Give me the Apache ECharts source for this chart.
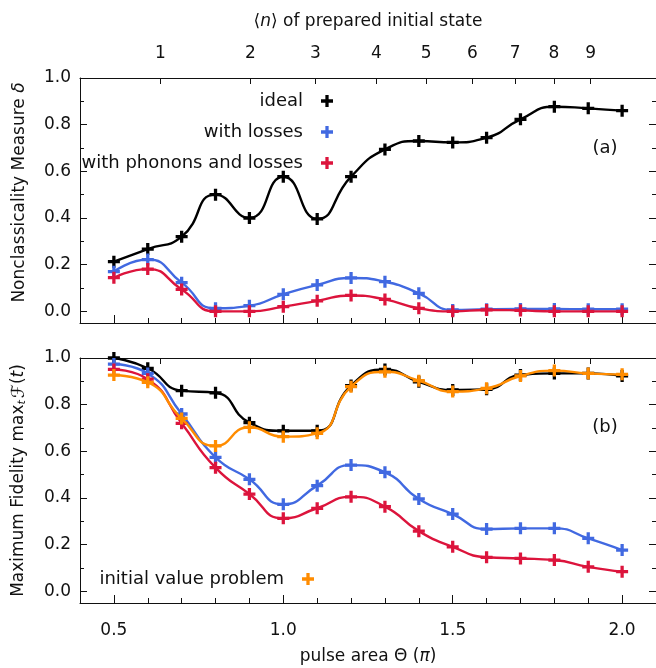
<!DOCTYPE html>
<html>
<head>
<meta charset="utf-8">
<script src="https://cdn.jsdelivr.net/npm/echarts@6/dist/echarts.min.js"></script>
<style>
  html, body { margin: 0; padding: 0; background: #ffffff; }
  #chart { width: 656px; height: 668px; }
</style>
</head>
<body>
<div id="chart"></div>
<script>
// Pulse area Θ (in units of π) at which each state was evaluated
const theta = [0.5, 0.6, 0.7, 0.8, 0.9, 1.0, 1.1, 1.2, 1.3, 1.4, 1.5, 1.6, 1.7, 1.8, 1.9, 2.0];

// (a) nonclassicality measure δ
const deltaIdeal   = [0.213, 0.267, 0.320, 0.500, 0.400, 0.577, 0.396, 0.577, 0.694, 0.730, 0.724, 0.744, 0.823, 0.877, 0.870, 0.860];
const deltaLosses  = [0.170, 0.222, 0.123, 0.013, 0.024, 0.073, 0.113, 0.143, 0.127, 0.077, 0.006, 0.009, 0.010, 0.010, 0.009, 0.009];
const deltaPhonons = [0.144, 0.181, 0.094, 0.000, 0.000, 0.020, 0.045, 0.068, 0.051, 0.013, 0.000, 0.006, 0.004, 0.000, 0.000, 0.000];

// (b) maximum fidelity max_t F(t)
const fidIdeal   = [1.000, 0.956, 0.860, 0.851, 0.723, 0.688, 0.688, 0.882, 0.951, 0.898, 0.863, 0.866, 0.927, 0.934, 0.934, 0.923];
const fidLosses  = [0.974, 0.934, 0.760, 0.574, 0.480, 0.373, 0.453, 0.541, 0.510, 0.396, 0.331, 0.267, 0.270, 0.270, 0.227, 0.177];
const fidPhonons = [0.951, 0.909, 0.720, 0.530, 0.417, 0.313, 0.356, 0.405, 0.363, 0.258, 0.191, 0.146, 0.141, 0.134, 0.105, 0.084];
const fidIVP     = [0.927, 0.896, 0.741, 0.623, 0.703, 0.663, 0.677, 0.877, 0.941, 0.903, 0.856, 0.870, 0.923, 0.946, 0.934, 0.930];

// Secondary axis: mean photon number <n> of the prepared state vs. pulse area
const nLabels = ['1', '2', '3', '4', '5', '6', '7', '8', '9'];
const nTheta  = [0.637, 0.903, 1.095, 1.275, 1.422, 1.558, 1.684, 1.799, 1.907];

// Tick positions
const xMajor = [0.5, 1.0, 1.5, 2.0];
const xMinor = [0.5, 0.6, 0.7, 0.8, 0.9, 1.0, 1.1, 1.2, 1.3, 1.4, 1.5, 1.6, 1.7, 1.8, 1.9, 2.0];
const yMajor = [0.0, 0.2, 0.4, 0.6, 0.8, 1.0];
const yMinor = [0.0, 0.1, 0.2, 0.3, 0.4, 0.5, 0.6, 0.7, 0.8, 0.9, 1.0];

const FONT = 'DejaVu Sans';
const INK = '#111111';
const FS = 17;
const FS_LEGEND = 18;
const COLORS = { ideal: '#000000', losses: '#4169e1', phonons: '#dc143c', ivp: '#ff8c00' };
const PLUS = 'path://M4,0H7V4H11V7H7V11H4V7H0V4H4Z';

const X_MIN = 0.4, X_MAX = 2.1, Y_MIN = -0.05, Y_MAX = 1.0;

function pairs(xs, ys) { return xs.map((x, i) => [x, ys[i]]); }

function xAxis(grid, position, ticks, len, extra) {
  return Object.assign({
    type: 'value', gridIndex: grid, position: position, min: X_MIN, max: X_MAX,
    axisLine: { show: true, onZero: false, lineStyle: { color: INK, width: 1 } },
    axisTick: { show: true, inside: true, length: len, customValues: ticks, lineStyle: { color: INK, width: 1 } },
    axisLabel: { show: false },
    splitLine: { show: false }
  }, extra || {});
}

function yAxis(grid, position, ticks, len, extra) {
  return Object.assign({
    type: 'value', gridIndex: grid, position: position, min: Y_MIN, max: Y_MAX,
    axisLine: { show: true, onZero: false, lineStyle: { color: INK, width: 1 } },
    axisTick: { show: true, inside: true, length: len, customValues: ticks, lineStyle: { color: INK, width: 1 } },
    axisLabel: { show: false },
    splitLine: { show: false }
  }, extra || {});
}

const tickLabel = { show: true, fontFamily: FONT, fontSize: FS, color: INK };

function richName(extraRich) {
  return {
    rich: Object.assign({
      b: { fontFamily: FONT, fontSize: FS, color: INK },
      i: { fontFamily: FONT, fontSize: FS, color: INK, fontStyle: 'italic' }
    }, extraRich || {})
  };
}

const xAxes = [
  // top panel
  xAxis(0, 'bottom', xMajor, 8),                                                 // 0
  xAxis(0, 'bottom', xMinor, 5, { axisLine: { show: false, onZero: false } }),   // 1
  xAxis(0, 'top', nTheta, 6, {                                                   // 2
    axisLabel: Object.assign({}, tickLabel, {
      customValues: nTheta, margin: 16,
      formatter: v => nLabels[nTheta.indexOf(v)]
    }),
    name: '{b|⟨}{i|n}{b|⟩ of prepared initial state}',
    nameLocation: 'middle', nameGap: 48,
    nameTextStyle: richName()
  }),
  // bottom panel
  xAxis(1, 'bottom', xMajor, 8, {                                                // 3
    axisLabel: Object.assign({}, tickLabel, {
      customValues: xMajor, margin: 19, formatter: v => v.toFixed(1)
    }),
    name: '{b|pulse area Θ (}{i|π}{b|)}',
    nameLocation: 'middle', nameGap: 45,
    nameTextStyle: richName()
  }),
  xAxis(1, 'bottom', xMinor, 5, { axisLine: { show: false, onZero: false } }),   // 4
  xAxis(1, 'top', nTheta, 6)                                                     // 5
];

const yAxes = [
  yAxis(0, 'left', yMajor, 7, {                                                  // 0
    axisLabel: Object.assign({}, tickLabel, {
      customValues: yMajor, margin: 9, formatter: v => v.toFixed(1)
    }),
    name: '{b|Nonclassicality Measure }{i|δ}',
    nameLocation: 'middle', nameGap: 52,
    nameTextStyle: Object.assign(richName(), { padding: [0, 0, 0, 16] })
  }),
  yAxis(0, 'left', yMinor, 4, { axisLine: { show: false, onZero: false } }),     // 1
  yAxis(0, 'right', yMajor, 7),                                                  // 2
  yAxis(0, 'right', yMinor, 4, { axisLine: { show: false, onZero: false } }),    // 3
  yAxis(1, 'left', yMajor, 7, {                                                  // 4
    axisLabel: Object.assign({}, tickLabel, {
      customValues: yMajor, margin: 9, formatter: v => v.toFixed(1)
    }),
    name: '{b|Maximum Fidelity max}{s|t}{f|ℱ}{b|(}{i|t}{b|)}',
    nameLocation: 'middle', nameGap: 52,
    nameTextStyle: richName({
      f: { fontFamily: FONT, fontSize: 18, color: INK, padding: [0, 0, 0, 2] },
      s: { fontFamily: FONT, fontSize: 11, color: INK, fontStyle: 'italic', verticalAlign: 'bottom', padding: [6, 0, 0, 0] }
    })
  }),
  yAxis(1, 'left', yMinor, 4, { axisLine: { show: false, onZero: false } }),     // 5
  yAxis(1, 'right', yMajor, 7),                                                  // 6
  yAxis(1, 'right', yMinor, 4, { axisLine: { show: false, onZero: false } })     // 7
];

function curve(name, color, xi, yi, values, z) {
  return {
    type: 'line', name: name, xAxisIndex: xi, yAxisIndex: yi,
    data: pairs(theta, values),
    smooth: 0.55,
    symbol: PLUS, symbolSize: 12, showSymbol: true, showAllSymbol: true,
    lineStyle: { color: color, width: 2.4 },
    itemStyle: { color: color },
    emphasis: { disabled: true },
    z: z
  };
}

const series = [
  curve('ideal', COLORS.ideal, 0, 0, deltaIdeal, 2),
  curve('with losses', COLORS.losses, 0, 0, deltaLosses, 3),
  curve('with phonons and losses', COLORS.phonons, 0, 0, deltaPhonons, 4),
  curve('ideal', COLORS.ideal, 3, 4, fidIdeal, 2),
  curve('with losses', COLORS.losses, 3, 4, fidLosses, 3),
  curve('with phonons and losses', COLORS.phonons, 3, 4, fidPhonons, 4),
  curve('initial value problem', COLORS.ivp, 3, 4, fidIVP, 5)
];

function legendItem(name, right, top) {
  return {
    data: [name], right: right, top: top, orient: 'horizontal', align: 'right',
    icon: PLUS, itemWidth: 12, itemHeight: 12, padding: 0, selectedMode: false,
    textStyle: { fontFamily: FONT, fontSize: FS_LEGEND, color: INK, padding: [0, 13, 0, 0] }
  };
}

const option = {
  animation: false,
  backgroundColor: '#ffffff',
  grid: [
    { left: 80, top: 78, width: 581, height: 245 },
    { left: 80, top: 358, width: 581, height: 245 }
  ],
  xAxis: xAxes,
  yAxis: yAxes,
  legend: [
    legendItem('ideal', 323, 92),
    legendItem('with losses', 323, 123),
    legendItem('with phonons and losses', 323, 154),
    legendItem('initial value problem', 342, 570)
  ],
  graphic: [
    { type: 'text', x: 605, y: 148, style: { text: '(a)', font: FS_LEGEND + 'px "' + FONT + '"', fill: INK, align: 'center', verticalAlign: 'middle' } },
    { type: 'text', x: 605, y: 427, style: { text: '(b)', font: FS_LEGEND + 'px "' + FONT + '"', fill: INK, align: 'center', verticalAlign: 'middle' } }
  ],
  series: series
};

const chart = echarts.init(document.getElementById('chart'), null, { renderer: 'canvas' });
chart.setOption(option);
</script>
</body>
</html>
